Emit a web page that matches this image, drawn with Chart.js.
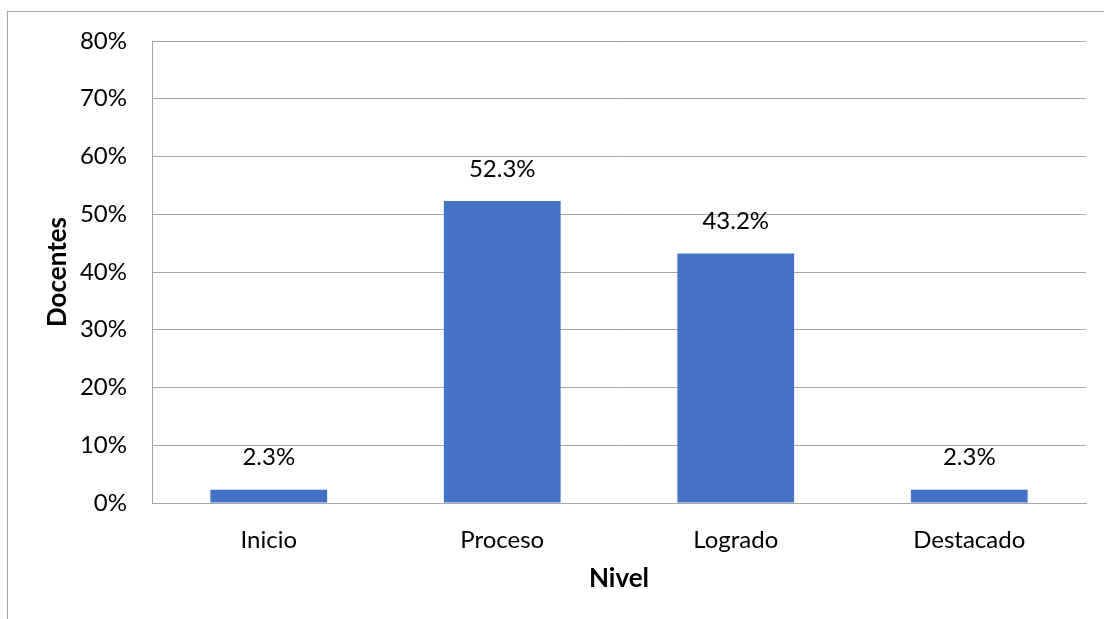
<!DOCTYPE html>
<html>
<head>
<meta charset="utf-8">
<script src="https://cdn.jsdelivr.net/npm/chart.js@4.4.0/dist/chart.umd.min.js"></script>
<style>
  html, body { margin: 0; padding: 0; background: #fff; }
  #wrap { position: relative; width: 1104px; height: 619px; }
  #frame { position: absolute; left: 7px; top: 11px; right: -2px; bottom: -2px; border-left: 1px solid #a6a6a6; border-top: 1px solid #a6a6a6; }
  canvas { position: absolute; left: 0; top: 0; }
</style>
</head>
<body>
<div id="wrap">
  <div id="frame"></div>
  <canvas id="chart" width="1104" height="619"></canvas>
</div>
<script>
// niveles y porcentaje de docentes
const niveles = ['Inicio', 'Proceso', 'Logrado', 'Destacado'];
const porcentajes = [2.3, 52.3, 43.2, 2.3];
const yTicks = [0, 10, 20, 30, 40, 50, 60, 70, 80];

const FONT = 'Lato, "Open Sans", sans-serif';

const barLabels = {
  id: 'barLabels',
  afterDatasetsDraw(chart) {
    const ctx = chart.ctx;
    const meta = chart.getDatasetMeta(0);
    ctx.save();
    ctx.font = '24px ' + FONT;
    ctx.fillStyle = '#000';
    ctx.textAlign = 'center';
    ctx.textBaseline = 'middle';
    meta.data.forEach((bar, i) => {
      ctx.fillText(porcentajes[i].toFixed(1) + '%', bar.x, bar.y - 32);
    });
    ctx.restore();
  }
};

const ctx = document.getElementById('chart').getContext('2d');
const myChart = new Chart(ctx, {
  type: 'bar',
  data: {
    labels: niveles,
    datasets: [{
      data: porcentajes,
      backgroundColor: '#4472C4',
      borderWidth: 0,
      barPercentage: 0.5,
      categoryPercentage: 1
    }]
  },
  plugins: [barLabels],
  options: {
    responsive: false,
    animation: false,
    layout: { padding: { left: 0, right: 18, top: 41, bottom: 0 } },
    plugins: { legend: { display: false }, tooltip: { enabled: false } },
    scales: {
      x: {
        grid: { display: false, drawTicks: false },
        border: { color: '#a6a6a6', width: 1 },
        ticks: { color: '#000', font: { family: FONT, size: 24 }, padding: 23 },
        title: { display: true, text: 'Nivel', color: '#000', font: { family: FONT, size: 26, weight: 'bold' }, padding: { top: 0, bottom: 25 } },
        afterFit(scale) { scale.height = 116; }
      },
      y: {
        min: 0,
        max: 80,
        afterBuildTicks(scale) { scale.ticks = yTicks.map(v => ({ value: v })); },
        grid: { color: '#a6a6a6', lineWidth: 1, drawTicks: false },
        border: { color: '#a6a6a6', width: 1 },
        ticks: { color: '#000', font: { family: FONT, size: 24 }, padding: 25, callback: v => v + '%' },
        title: { display: true, text: 'Docentes', color: '#000', font: { family: FONT, size: 26, weight: 'bold' }, padding: { top: 42, bottom: 0 } },
        afterFit(scale) { scale.width = 152; }
      }
    }
  }
});
</script>
</body>
</html>
